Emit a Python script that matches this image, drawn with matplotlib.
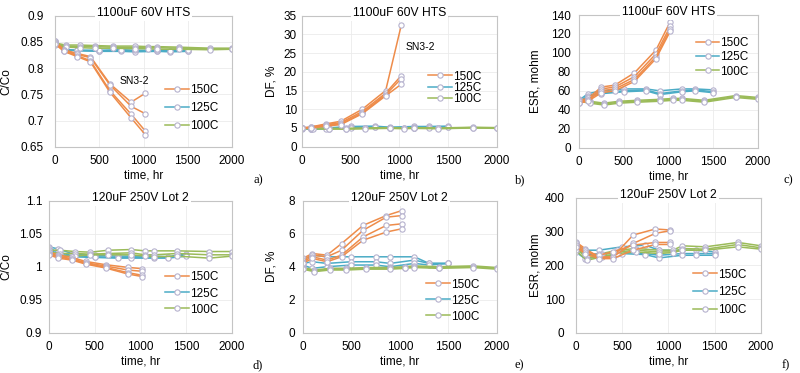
import matplotlib
matplotlib.use("Agg")
import matplotlib.pyplot as plt
from matplotlib.ticker import FuncFormatter

plt.rcParams['font.family'] = ['Liberation Sans', 'DejaVu Sans']

# time points, hr
t150 = [0, 100, 250, 400, 620, 860, 1020]
t125 = [0, 100, 250, 500, 750, 900, 1150, 1300, 1500]
t100 = [0, 120, 280, 450, 650, 900, 1050, 1150, 1400, 1750, 2000]

# a) 1100uF 60V HTS, C/Co
a_150 = [[0.852, 0.835, 0.828, 0.822, 0.770, 0.735, 0.752],
         [0.850, 0.834, 0.826, 0.820, 0.768, 0.727, 0.713],
         [0.848, 0.833, 0.824, 0.814, 0.757, 0.712, 0.680],
         [0.846, 0.832, 0.822, 0.812, 0.754, 0.705, 0.673]]
a_125 = [[0.852, 0.836, 0.834, 0.833, 0.834, 0.833, 0.833, 0.832, 0.833],
         [0.850, 0.835, 0.833, 0.832, 0.832, 0.831, 0.832, 0.831, 0.832],
         [0.848, 0.834, 0.834, 0.834, 0.835, 0.834, 0.834, 0.833, 0.834]]
a_100 = [[0.848, 0.844, 0.844, 0.843, 0.842, 0.842, 0.841, 0.841, 0.840, 0.838, 0.838],
         [0.846, 0.842, 0.841, 0.841, 0.840, 0.839, 0.839, 0.839, 0.838, 0.837, 0.837],
         [0.845, 0.840, 0.839, 0.838, 0.838, 0.837, 0.837, 0.836, 0.836, 0.835, 0.836]]

# b) 1100uF 60V HTS, DF %
b_150 = [[5.0, 5.3, 6.1, 6.8, 10.0, 15.0, 32.5],
         [5.0, 5.2, 5.9, 6.4, 9.4, 14.3, 19.0],
         [5.0, 5.1, 5.7, 6.1, 9.0, 13.9, 18.2],
         [4.9, 5.0, 5.5, 5.9, 8.8, 13.6, 16.7]]
b_125 = [[5.1, 4.8, 5.0, 5.4, 5.5, 5.2, 5.4, 5.4, 5.5],
         [5.0, 4.7, 4.9, 5.2, 5.3, 5.1, 5.2, 5.2, 5.3],
         [4.9, 4.6, 4.8, 5.1, 5.2, 5.0, 5.1, 5.1, 5.2]]
b_100 = [[5.0, 5.0, 4.9, 4.9, 5.0, 5.1, 5.0, 5.1, 5.0, 5.2, 5.1],
         [4.9, 4.9, 4.8, 4.8, 4.9, 5.0, 4.9, 5.0, 4.9, 5.1, 5.0],
         [4.8, 4.8, 4.7, 4.7, 4.8, 4.9, 4.8, 4.9, 4.8, 5.0, 4.9]]

# c) 1100uF 60V HTS, ESR mohm
c_150 = [[50, 52, 64, 66, 79, 103, 133],
         [48, 50, 62, 64, 75, 99, 128],
         [49, 50, 60, 62, 72, 96, 125],
         [47, 49, 58, 60, 70, 94, 123]]
c_125 = [[50, 57, 60, 62, 62, 60, 62, 62, 61],
         [48, 55, 58, 60, 61, 57, 60, 61, 59],
         [47, 54, 57, 59, 60, 56, 59, 60, 58]]
c_100 = [[51, 49, 47, 49, 50, 51, 52, 52, 50, 55, 53],
         [50, 48, 46, 48, 49, 50, 51, 51, 49, 54, 52],
         [49, 47, 45, 47, 48, 49, 50, 50, 48, 53, 51]]

# d) 120uF 250V Lot 2, C/Co
d_150 = [[1.022, 1.018, 1.014, 1.008, 1.003, 0.999, 0.997],
         [1.020, 1.016, 1.012, 1.006, 1.001, 0.995, 0.993],
         [1.019, 1.015, 1.011, 1.005, 0.999, 0.991, 0.987],
         [1.018, 1.013, 1.010, 1.004, 0.998, 0.989, 0.985]]
d_125 = [[1.030, 1.027, 1.020, 1.017, 1.016, 1.016, 1.016, 1.015, 1.020],
         [1.028, 1.022, 1.017, 1.015, 1.014, 1.014, 1.014, 1.014, 1.018],
         [1.025, 1.020, 1.015, 1.014, 1.013, 1.013, 1.013, 1.013, 1.016]]
d_100 = [[1.025, 1.025, 1.023, 1.022, 1.025, 1.026, 1.024, 1.024, 1.024, 1.023, 1.023],
         [1.022, 1.020, 1.020, 1.019, 1.020, 1.021, 1.018, 1.018, 1.020, 1.018, 1.018],
         [1.020, 1.016, 1.016, 1.018, 1.018, 1.018, 1.016, 1.015, 1.016, 1.013, 1.016]]

# e) 120uF 250V Lot 2, DF %
e_150 = [[4.5, 4.8, 4.7, 5.4, 6.5, 7.1, 7.4],
         [4.4, 4.7, 4.6, 5.0, 6.2, 7.0, 7.1],
         [4.3, 4.6, 4.4, 4.7, 5.8, 6.5, 6.6],
         [4.2, 4.5, 4.3, 4.6, 5.6, 6.1, 6.3]]
e_125 = [[4.4, 4.7, 4.6, 4.6, 4.6, 4.6, 4.6, 4.2, 4.2],
         [4.2, 4.3, 4.2, 4.3, 4.3, 4.2, 4.4, 4.2, 4.2],
         [4.1, 3.9, 4.0, 4.1, 4.1, 4.0, 4.2, 4.1, 4.2]]
e_100 = [[3.95, 3.8, 3.9, 3.9, 3.95, 3.95, 4.0, 4.05, 4.0, 4.05, 3.95],
         [3.9, 3.75, 3.85, 3.85, 3.9, 3.9, 3.95, 4.0, 3.95, 4.0, 3.9],
         [3.85, 3.7, 3.8, 3.8, 3.85, 3.85, 3.9, 3.95, 3.9, 3.95, 3.85]]

# f) 120uF 250V Lot 2, ESR mohm
f_150 = [[270, 250, 225, 225, 290, 308, 305],
         [265, 245, 222, 225, 265, 295, 303],
         [260, 240, 230, 240, 260, 268, 268],
         [255, 235, 220, 220, 245, 262, 262]]
f_125 = [[265, 245, 245, 255, 260, 245, 245, 245, 240],
         [250, 230, 235, 240, 235, 230, 235, 235, 235],
         [240, 220, 225, 235, 232, 222, 230, 230, 230]]
f_100 = [[265, 225, 235, 245, 250, 245, 245, 258, 255, 268, 258],
         [255, 220, 230, 240, 245, 240, 240, 250, 248, 262, 252],
         [245, 215, 225, 235, 240, 235, 238, 245, 245, 255, 248]]

titles = ['1100uF 60V HTS'] * 3 + ['120uF 250V Lot 2'] * 3
ylabels = ['C/Co', 'DF, %', 'ESR, mohm', 'C/Co', 'DF, %', 'ESR, mohm']
letters = ['a)', 'b)', 'c)', 'd)', 'e)', 'f)']
yticks = [[0.65, 0.7, 0.75, 0.8, 0.85, 0.9],
          [0, 5, 10, 15, 20, 25, 30, 35],
          [0, 20, 40, 60, 80, 100, 120, 140],
          [0.9, 0.95, 1, 1.05, 1.1],
          [0, 2, 4, 6, 8],
          [0, 100, 200, 300, 400]]
panels = [(a_150, a_125, a_100), (b_150, b_125, b_100), (c_150, c_125, c_100),
          (d_150, d_125, d_100), (e_150, e_125, e_100), (f_150, f_125, f_100)]

# layout in pixels (left, right, top, bottom) of each plot area
W, H = 800, 373
boxes = [(55, 232, 15.7, 146.7), (301.7, 497, 15.7, 146.7), (579, 758, 15, 147.7),
         (49, 232, 200.7, 332.7), (302.7, 497, 200.7, 332.7), (575.7, 761, 198, 332.7)]
ylab_x = [6.7, 271.7, 535.8, 6.7, 271.7, 535.5]
ypads = [8, 3.5, 6, 5, 5.5, 8]
# legend: handle start x (px), first row y (px), labelspacing
legs = [(165, 90.7, 0.5), (428, 77, -0.05), (695.7, 43.3, 0.2),
        (165, 278, 0.34), (426, 285, 0.34), (693.3, 275, 0.48)]
letter_pos = [(258, 180), (520, 180), (788, 180), (258, 365), (519, 365), (786, 365)]

col150 = '#EE8C4A'
col125 = '#4BACC6'
col100 = '#9BBB59'
mec = '#B6B2CE'

fig = plt.figure(figsize=(8, 3.73), dpi=100)

for k in range(6):
    l, r, t, b = boxes[k]
    ax = fig.add_axes([l / W, 1 - b / H, (r - l) / W, (b - t) / H])
    s150, s125, s100 = panels[k]
    handles = {}
    for times, units, col, lab in [(t125, s125, col125, '125C'),
                                   (t100, s100, col100, '100C'),
                                   (t150, s150, col150, '150C')]:
        for i, u in enumerate(units):
            ln, = ax.plot(times, u, color=col, lw=1.1, marker='o', ms=3.8,
                          mfc='white', mec=mec, mew=0.8)
            if i == 0:
                handles[lab] = ln
    ax.set_xlim(0, 2000)
    ax.set_xticks([0, 500, 1000, 1500, 2000])
    ax.set_ylim(yticks[k][0], yticks[k][-1])
    ax.set_yticks(yticks[k])
    ax.yaxis.set_major_formatter(FuncFormatter(lambda v, p: '{:g}'.format(round(v, 3))))
    ax.tick_params(length=0, labelsize=8.5)
    ax.tick_params(axis='x', pad=6)
    ax.tick_params(axis='y', pad=ypads[k])
    ax.grid(True, color='#EBEBEB', lw=0.6)
    ax.set_axisbelow(True)
    for sp in ax.spines.values():
        sp.set_color('#C4C4C4')
        sp.set_linewidth(0.8)

    ax.set_xlabel('time, hr', fontsize=8.5, va='center')
    ax.xaxis.set_label_coords(0.5, -28.5 / (b - t))
    ax.set_ylabel(ylabels[k], fontsize=8.5, va='center')
    ax.yaxis.set_label_coords((ylab_x[k] - l) / (r - l), 0.5)

    ax.text(0.5, 1 + 3 / (b - t), titles[k], transform=ax.transAxes, ha='center',
            va='center', fontsize=8.7,
            bbox=dict(facecolor='white', edgecolor='none', pad=1.5))

    lx, ly, ls = legs[k]
    ax.legend([handles['150C'], handles['125C'], handles['100C']],
              ['150C', '125C', '100C'], loc='upper left',
              bbox_to_anchor=((lx - l) / (r - l), (b - ly + 6.5) / (b - t)),
              frameon=False, borderpad=0, borderaxespad=0, handlelength=2.0,
              handletextpad=0.1, labelspacing=ls, fontsize=8.5)

    fig.text(letter_pos[k][0] / W, 1 - letter_pos[k][1] / H, letters[k],
             family='Liberation Serif', fontsize=9, ha='center', va='center')

fig.axes[0].text(892, 0.775, 'SN3-2', fontsize=7.5, ha='center', va='center')
fig.axes[1].text(1213, 26.7, 'SN3-2', fontsize=7.5, ha='center', va='center')

fig.savefig('out.png', dpi=100)
